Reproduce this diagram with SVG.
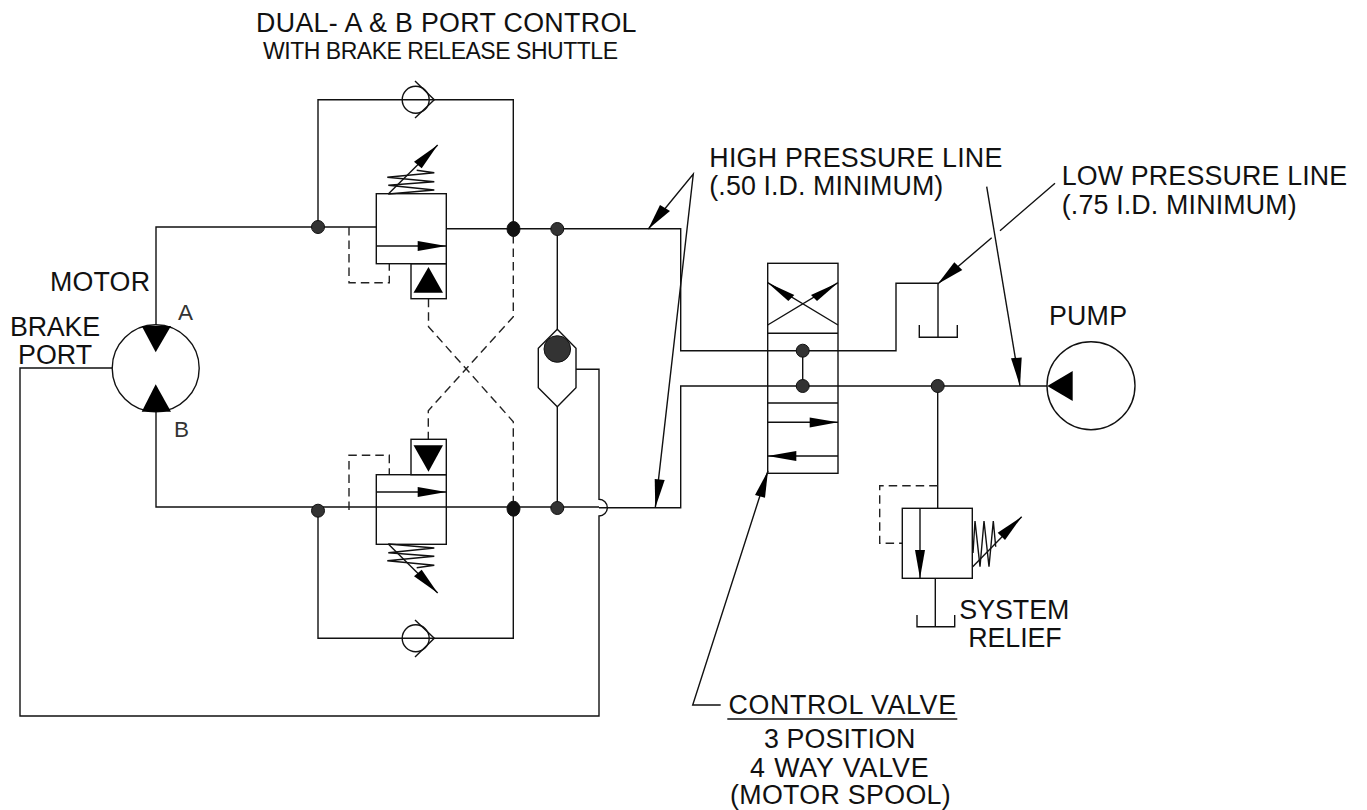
<svg xmlns="http://www.w3.org/2000/svg" width="1367" height="810" viewBox="0 0 1367 810">
<style>
.l{fill:none;stroke:#111;stroke-width:1.4}
.d{fill:none;stroke:#222;stroke-width:1.4;stroke-dasharray:8.5 5}
.h{fill:#000;stroke:none}
.j{fill:#333;stroke:#111;stroke-width:1}
text{font-family:"Liberation Sans",Arial,sans-serif;fill:#111;font-size:26.8px}
.s{font-size:23px}
.t{fill:#333;font-size:22.5px}
</style>
<rect width="1367" height="810" fill="#fff"/>
<g id="connectors">
<path class="l" d="M156 325V227H376.3M446.3 228.7H680.7V350.7H896V283.3H938"/>
<path class="l" d="M318 227V99.7H513.3V229"/>
<path class="l" d="M156 412V507H599M599 507.7H680.7V386H1047"/>
<path class="l" d="M318 510V638.3H513.3V509"/>
<path class="l" d="M557.3 229V329.3M557.3 406.7V508"/>
<path class="l" d="M576 369.3H599V499.3A8.3 8.3 0 0 1 599 516V716H20V368H112"/>
<path class="l" d="M802.7 350.7V386"/>
<path class="l" d="M937.7 386V508.3"/>
<path class="d" d="M349 227V282.7H389.3V263.7"/>
<path class="d" d="M428.5 298.7V326.7L513.3 421.7V507"/>
<path class="d" d="M513.3 235V316.7L428.3 410.7V439.3"/>
<path class="d" d="M349 510V455.3H389.3V474.7"/>
<path class="d" d="M937.7 485.7H879.7V543.3H902.3"/>
</g>
<g id="leaders">
<path class="l" d="M648.3 229L693.3 174L655.3 507.7"/>
<path class="h" d="M648.3 229L660 205L670 211Z"/>
<path class="h" d="M655.3 507.7L654.7 479L664.7 480Z"/>
<path class="l" d="M986.7 186.7L1020 386"/>
<path class="h" d="M1020 386L1011 358.3L1021.7 357.5Z"/>
<path class="l" d="M1055 183.3L1000 230.7M991.7 237.7L937.7 284"/>
<path class="h" d="M937.7 284L954.3 262.3L962.3 270Z"/>
<path class="l" d="M768 470.7L692.7 705H720.7"/>
<path class="h" d="M768 470.7L755 495L765 497.7Z"/>
<path class="l" d="M727.3 719H957.3"/>
</g>
<g id="motor">
<circle class="l" cx="155.7" cy="368.3" r="43.5"/>
<path class="h" d="M141.7 326H171L155.7 352.3Z"/>
<path class="h" d="M141.7 411.7H171L155.7 384.3Z"/>
</g>
<g id="check-top">
<circle class="l" cx="415.7" cy="99.7" r="13.5"/>
<path class="l" d="M415 81L434.3 99.7L415 118"/>
</g>
<g id="check-bottom">
<circle class="l" cx="415.7" cy="638.3" r="13.5"/>
<path class="l" d="M415 620L434.3 638.3L415 657"/>
</g>
<g id="valve-top">
<rect class="l" x="376.3" y="193.7" width="70" height="70"/>
<rect class="l" x="411" y="263.7" width="35.3" height="35"/>
<path class="l" d="M376.3 246H446.3"/>
<path class="h" d="M446.3 246L417.7 241V251Z"/>
<path class="h" d="M428.5 267L413.5 292.7H443Z"/>
<path class="l" d="M388.3 194L434.3 190L388.3 185.3L434.3 181.7L387.3 177.3L434.3 172.7L416.7 170.3"/>
<path class="l" d="M388.3 194L437.7 145"/>
<path class="h" d="M437.7 145L414 161.7L421.7 168.3Z"/>
</g>
<g id="valve-bottom">
<rect class="l" x="376.3" y="474.7" width="70" height="69.6"/>
<rect class="l" x="411" y="439.3" width="35.3" height="35.4"/>
<path class="l" d="M376.3 492H446.3"/>
<path class="h" d="M446.3 492L417.7 487V497Z"/>
<path class="h" d="M428.5 471.7L413.5 445.3H443Z"/>
<path class="l" d="M388.3 544L434.3 548L388.3 552.7L434.3 556.3L387.3 560.7L434.3 565.3L416.7 567.7"/>
<path class="l" d="M388.3 544L437.7 593"/>
<path class="h" d="M437.7 593L414 576.3L421.7 569.7Z"/>
</g>
<g id="shuttle">
<path class="l" d="M557.3 329.3L576 348.3V387.7L557.3 406.7L538.3 387.7V348.3Z"/>
<circle class="j" cx="557.3" cy="349" r="13.3"/>
</g>
<g id="control-valve">
<rect class="l" x="767.7" y="263.3" width="70.3" height="210"/>
<path class="l" d="M767.7 333.3H838M767.7 403H838M767.7 422.3H838M767.7 456H838"/>
<path class="l" d="M767.7 282.7L838 325M767.7 325L838 282.7"/>
<path class="h" d="M767.7 282.7L794.3 295L788.3 301Z"/>
<path class="h" d="M838 282.7L811 295L817 301Z"/>
<path class="h" d="M838 422.3L809.7 417.5V427.5Z"/>
<path class="h" d="M767.7 456L796.3 451V461Z"/>
</g>
<g id="tank-return">
<path class="l" d="M938 283.3V337.3M919.3 325V337.3H957.3V325"/>
</g>
<g id="pump">
<circle class="l" cx="1091" cy="385.7" r="44"/>
<path class="h" d="M1047.3 386L1072.7 371V401Z"/>
</g>
<g id="relief-valve">
<rect class="l" x="902.3" y="508.3" width="70" height="70"/>
<path class="l" d="M920 508.3V578.3"/>
<path class="h" d="M920 578.3L915 550H925Z"/>
<path class="l" d="M973 553L975 521L980 566.7L984 521L989 566.7L993.3 521L995.7 546.7"/>
<path class="l" d="M972.7 566.7L1021.7 516.7"/>
<path class="h" d="M1021.7 516.7L997.7 532.7L1005 540Z"/>
<path class="l" d="M935.3 578.3V626.7M917 615V626.7H954.7V615"/>
</g>
<g id="junctions">
<circle class="j" cx="318" cy="227" r="6.5"/>
<ellipse class="j" cx="513.5" cy="229" rx="6.5" ry="7.5" style="fill:#111"/>
<circle class="j" cx="557.3" cy="229" r="6.5"/>
<circle class="j" cx="318" cy="510.7" r="6.5"/>
<ellipse class="j" cx="513.5" cy="508.7" rx="6.5" ry="7.5" style="fill:#111"/>
<circle class="j" cx="557.3" cy="508" r="6.5"/>
<circle class="j" cx="802.7" cy="350.7" r="6.5"/>
<circle class="j" cx="802.7" cy="386" r="6.5"/>
<circle class="j" cx="937.7" cy="386" r="6.5"/>
</g>
<g id="labels">
<text x="256" y="32" textLength="380.5">DUAL- A &amp; B PORT CONTROL</text>
<text class="s" x="263" y="59.3" textLength="355">WITH BRAKE RELEASE SHUTTLE</text>
<text x="709.3" y="166.7" textLength="293">HIGH PRESSURE LINE</text>
<text x="709.3" y="195" textLength="234">(.50 I.D. MINIMUM)</text>
<text x="1061.7" y="185" textLength="285.5">LOW PRESSURE LINE</text>
<text x="1061.7" y="214" textLength="235">(.75 I.D. MINIMUM)</text>
<text x="1049" y="324.5" textLength="78">PUMP</text>
<text x="50" y="290.7" textLength="100">MOTOR</text>
<text x="10" y="336" textLength="90">BRAKE</text>
<text x="18" y="364" textLength="74">PORT</text>
<text class="t" x="178" y="320">A</text>
<text class="t" x="174" y="437">B</text>
<text x="959.3" y="619.3" textLength="110">SYSTEM</text>
<text x="968.3" y="647.3" textLength="93.4">RELIEF</text>
<text x="728.5" y="714" textLength="227.5">CONTROL VALVE</text>
<text x="764" y="748.3" textLength="151.3">3 POSITION</text>
<text x="750" y="776.7" textLength="178.7">4 WAY VALVE</text>
<text x="730" y="804" textLength="220.7">(MOTOR SPOOL)</text>
</g>
</svg>
